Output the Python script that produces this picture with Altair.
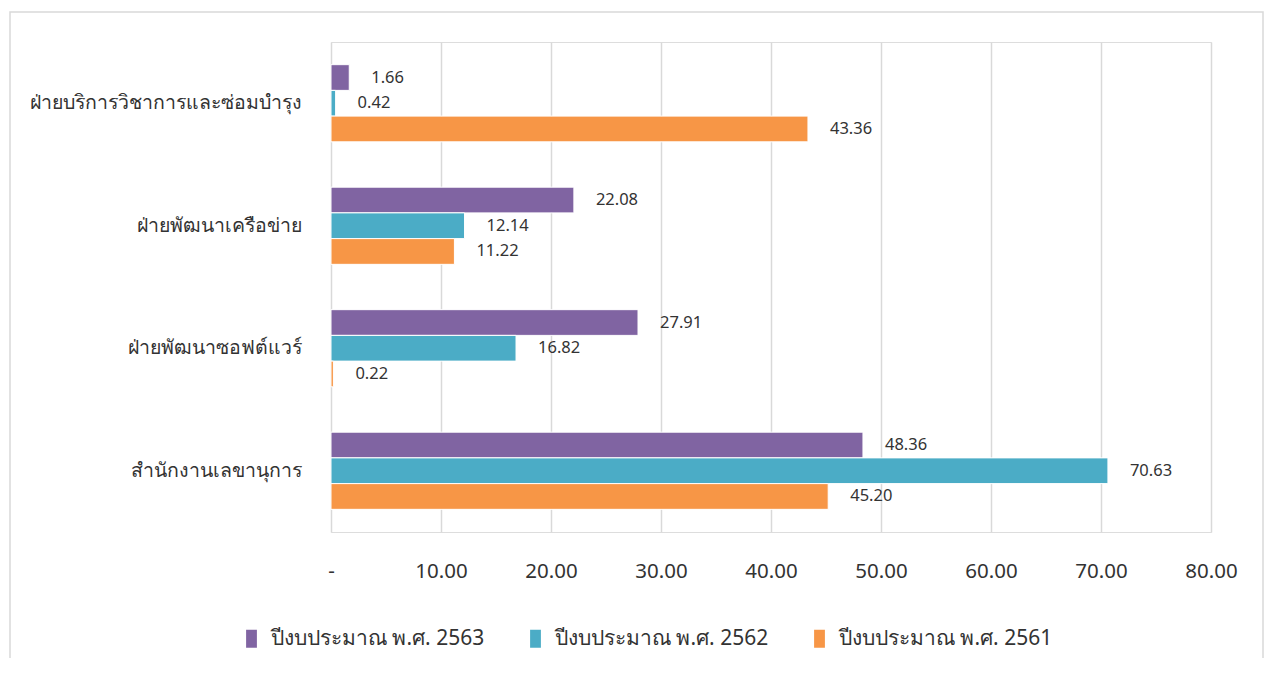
import altair as alt
import pandas as pd

categories = [
    "ฝ่ายบริการวิชาการและซ่อมบำรุง",
    "ฝ่ายพัฒนาเครือข่าย",
    "ฝ่ายพัฒนาซอฟต์แวร์",
    "สำนักงานเลขานุการ",
]
series = ["ปีงบประมาณ พ.ศ. 2563", "ปีงบประมาณ พ.ศ. 2562", "ปีงบประมาณ พ.ศ. 2561"]
values_2563 = [1.66, 22.08, 27.91, 48.36]
values_2562 = [0.42, 12.14, 16.82, 70.63]
values_2561 = [43.36, 11.22, 0.22, 45.20]
colors = ["#8064A2", "#4BACC6", "#F79646"]
x_ticks = [0, 10, 20, 30, 40, 50, 60, 70, 80]

rows = []
for s, vals in zip(series, [values_2563, values_2562, values_2561]):
    for c, v in zip(categories, vals):
        rows.append({"cat": c, "series": s, "value": v})
df = pd.DataFrame(rows)

FONT = "Noto Sans"
TXT = "#333333"

y_enc = alt.Y(
    "cat:N",
    sort=categories,
    scale=alt.Scale(paddingInner=0.37, paddingOuter=0.185),
    axis=alt.Axis(
        title=None, domain=False, ticks=False, labelFontSize=19.5, labelPadding=30,
        labelColor=TXT, labelFont=FONT, labelLimit=400,
    ),
)
yoff = alt.YOffset("series:N", sort=series, scale=alt.Scale(paddingInner=0, paddingOuter=0))

bars = alt.Chart(df).mark_bar(stroke="white", strokeWidth=1).encode(
    x=alt.X(
        "value:Q",
        scale=alt.Scale(domain=[0, 80], nice=False),
        axis=alt.Axis(
            title=None, values=x_ticks, domain=False, ticks=False,
            labelExpr="datum.value == 0 ? '-' : format(datum.value, '.2f')",
            labelFontSize=20.5, labelPadding=29, labelColor=TXT, labelFont=FONT,
            labelFlush=False, labelOverlap=False,
            grid=True, gridColor="#d9d9d9", gridWidth=1.5,
        ),
    ),
    y=y_enc,
    yOffset=yoff,
    color=alt.Color(
        "series:N",
        sort=series,
        scale=alt.Scale(domain=series, range=colors),
        legend=alt.Legend(
            title=None, orient="none", direction="horizontal", columns=3,
            legendX=-90, legendY=586,
            symbolType="M-0.6,-1H0.6V1H-0.6Z", symbolSize=324, symbolStrokeWidth=0,
            labelFontSize=21, labelFont=FONT, labelColor=TXT, labelOffset=9,
            columnPadding=40, labelLimit=400,
        ),
    ),
)

labels = alt.Chart(df).mark_text(
    align="left", baseline="middle", dx=22, fontSize=16.5, font=FONT, color=TXT
).encode(
    x="value:Q",
    y=alt.Y("cat:N", sort=categories),
    yOffset=yoff,
    text=alt.Text("value:Q", format=".2f"),
)

border = alt.Chart(pd.DataFrame({"a": [0]})).mark_rect(
    fill=None, stroke="#d9d9d9", strokeWidth=1.5
).encode(
    x=alt.value(-321), x2=alt.value(932), y=alt.value(-30), y2=alt.value(700)
)

chart = alt.layer(border, bars, labels).properties(
    width=880, height=490,
    autosize=alt.AutoSizeParams(type="none"),
    padding={"left": 323, "top": 34, "right": 54, "bottom": 126},
).configure_view(stroke=None).configure(background="white")

chart.save("out.html", embed_options={"renderer": "svg", "actions": False})
